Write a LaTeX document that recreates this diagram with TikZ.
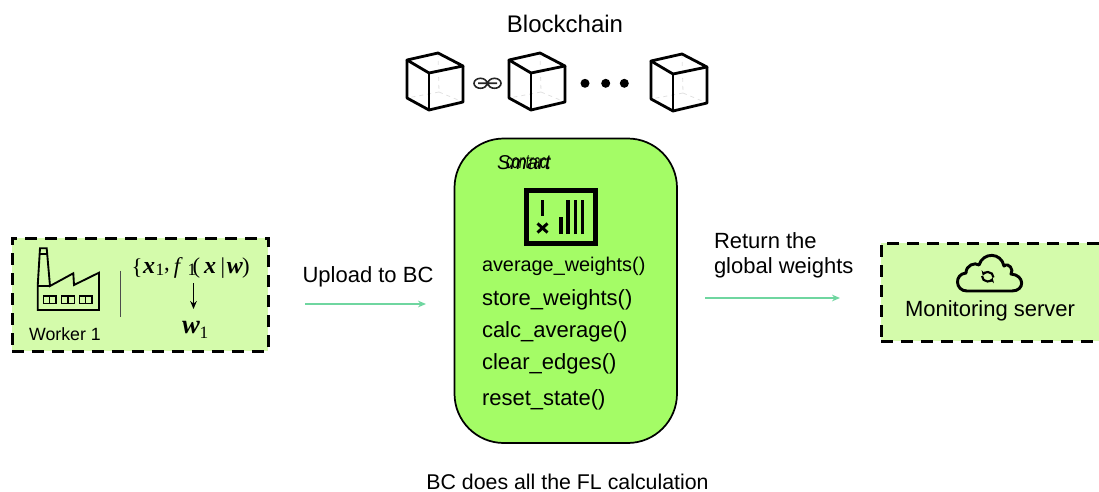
\documentclass[tikz,border=0pt]{standalone}
\usepackage{fontspec}
\setmainfont{Liberation Sans}
\newfontfamily\mathserif{Liberation Serif}
\usetikzlibrary{arrows.meta}
\definecolor{lightgreen}{HTML}{D4FBAB}
\definecolor{brightgreen}{HTML}{A4FC66}
\definecolor{arrowgreen}{HTML}{6FD6A0}
\newcommand{\fs}[1]{\fontsize{#1}{#1}\selectfont}
\tikzset{
  txt/.style={inner sep=0pt,outer sep=0pt,text=black,font=\fs{16.5}},
  fn/.style={txt,anchor=west},
  mth/.style={inner sep=0pt,outer sep=0pt,font=\mathserif\fs{18}\bfseries\itshape},
  mup/.style={inner sep=0pt,outer sep=0pt,font=\mathserif\fs{17}},
  sub/.style={inner sep=0pt,outer sep=0pt,font=\mathserif\fs{13}},
  dashbox/.style={fill=lightgreen,draw=black,line width=2.25pt,dash pattern=on 9pt off 6pt},
  flow/.style={draw=arrowgreen,line width=1.1pt,-{Stealth[length=6pt,width=5pt]}},
  cubeedge/.style={draw=black,line width=2.1pt,line join=round},
  hidden/.style={draw=black!12,line width=0.6pt,dashed},
  icon/.style={draw=black,line width=1.4pt,line join=miter},
  pics/blockcube/.style={code={
    \draw[hidden] (438,53) -- (439,92) (439,92) -- (407,98) (439,92) -- (463,102);
    \draw[cubeedge] (407,60) -- (438,53) -- (463,66) -- (429,73) -- cycle;
    \draw[cubeedge] (407,60) -- (407,98) -- (429,110) -- (463,102) -- (463,66);
    \draw[cubeedge] (429,73) -- (429,110);
  }}
}
\begin{document}
\begin{tikzpicture}[x=0.75pt,y=-0.75pt]
\useasboundingbox (0,0) rectangle (1099,492);
% title and blocks
\node[txt,font=\fs{18}] (title) at (565,24) {Blockchain};
\pic (cubeA) at (0,0) {blockcube};
\pic (cubeB) at (102,0) {blockcube};
\pic (cubeC) at (244,1) {blockcube};
% chain link
\draw[line width=1.2pt,draw=black!85] (480.5,83.3) ellipse (6.5 and 5) (494.5,83.3) ellipse (6.5 and 5) (478,83.3) -- (497,83.3);
\foreach \px in {585,605.7,624.3} \fill (\px,83.3) circle (4.5);
% worker
\node[dashbox,minimum width=192pt,minimum height=84.75pt,inner sep=0pt] (worker) at (140,294.5) {};
\draw[icon] (37.7,286) -- (40,248.3) -- (46.7,248.3) -- (50,286) -- (73.3,273.3) -- (74,285) -- (99,272.7) -- (99,310) -- (37.7,310) -- cycle;
\draw[icon] (37.7,286) -- (50,286) (39.5,254.3) -- (47,254.3);
\foreach \wx in {43.3,61.7,79.3}{
  \draw[draw=black,line width=1pt] (\wx,296) rectangle +(12.7,7.3) (\wx+6.35,296) -- +(0,7.3);
}
\node[txt,font=\fs{13.3}] (workerlabel) at (65,334) {Worker 1};
\draw[draw=black!70,line width=1pt] (120.7,270.7) -- (120.7,316.7);
\node[mup] (ma) at (137,268) {\{};
\node[mth] (mx) at (149,268) {x};
\node[sub] (mb) at (160,270) {1};
\node[mup] (mc) at (167,271) {,};
\node[mth,font=\mathserif\fs{17}\itshape] (mf) at (177,268) {f};
\node[sub] (md) at (192,270) {1};
\node[mup,font=\mathserif\fs{17}] (me) at (196.5,268) {(};
\node[mth] (mxb) at (210,268) {x};
\node[mup] (mg) at (223,268) {|};
\node[mth] (mw) at (235,268) {w};
\node[mup] (mh) at (246,268) {)};
\node[mth,font=\mathserif\fs{20}\bfseries\itshape] (wa) at (191,328) {w};
\node[sub] (wb) at (204,333) {1};
\coordinate (fa) at (193.5,283);
\coordinate (fb) at (193.5,309);
\draw[-{Stealth[length=6pt,width=5pt]},line width=1.1pt] (fa) -- (fb);
% arrows
\coordinate (upA) at (305,304);
\coordinate (upB) at (426,304);
\draw[flow] (upA) -- (upB);
\node[txt] (uplabel) at (368,277) {Upload to BC};
\coordinate (retA) at (705,298);
\coordinate (retB) at (840,298);
\draw[flow] (retA) -- (retB);
\node[fn] (ret1) at (714,241) {Return the};
\node[fn] (ret2) at (714,268) {global weights};
% smart contract
\draw[fill=brightgreen,draw=black,line width=1.3pt,rounded corners=37pt] (454.5,138.5) rectangle (677,443);
\node[fn,font=\fs{15}\itshape] (sc1) at (497,162.5) {Smart};
\node[fn,font=\fs{15}\itshape,xscale=0.62] (sc2) at (506,162.5) {contract};
\draw[draw=black,line width=3.4pt] (526.5,190.5) rectangle (595.5,243.5);
\draw[draw=black,line width=2.4pt] (542.7,200) -- (542.7,216) (561,234) -- (561,217) (568,234) -- (568,200) (575.3,234) -- (575.3,200) (582.5,234) -- (582.5,200);
\draw[draw=black,line width=2.2pt] (537.5,223.5) -- (547.5,232.5) (547.5,223.5) -- (537.5,232.5);
\node[fn,font=\fs{14.9}] (f1) at (482,266) {average\_weights()};
\node[fn] (f2) at (482,299.5) {store\_weights()};
\node[fn] (f3) at (482,331.5) {calc\_average()};
\node[fn] (f4) at (482,363.5) {clear\_edges()};
\node[fn] (f5) at (482,400) {reset\_state()};
\node[txt,font=\fs{16}] (note) at (567.5,482) {BC does all the FL calculation};
% monitoring server
\node[dashbox,minimum width=165pt,minimum height=73.5pt,inner sep=0pt] (monitor) at (991,292) {};
\draw[draw=black,line width=2.2pt,line join=round]
  (967,291) .. controls (955,291) and (954,274) .. (966,273)
  .. controls (966,265) and (975,262) .. (979,265)
  .. controls (983,252) and (1001,252) .. (1004,266)
  .. controls (1009,262) and (1014,270) .. (1011,274)
  .. controls (1025,275) and (1025,291) .. (1012,291) -- cycle;
\draw[draw=black,line width=1.6pt,-{Stealth[length=3.5pt,width=4.5pt]}] (982,276) arc[start angle=180,end angle=20,radius=5.5];
\draw[draw=black,line width=1.6pt,-{Stealth[length=3.5pt,width=4.5pt]}] (993.5,277.5) arc[start angle=0,end angle=-160,radius=5.5];
\node[txt] (monlabel) at (990,310.5) {Monitoring server};
\end{tikzpicture}
\end{document}
